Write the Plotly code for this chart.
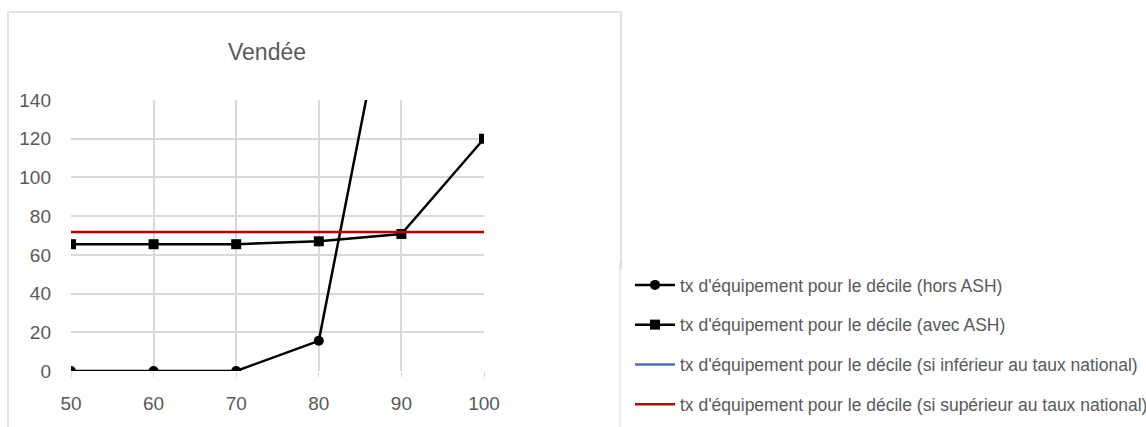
import plotly.graph_objects as go

deciles = [50, 60, 70, 80, 90, 100]
hors_ash = [0, 0, 0, 15.6, 233, 330]
avec_ash = [65.5, 65.5, 65.5, 67, 70.8, 120]
si_inferieur = [None, None, None, None, None, None]
si_superieur = [71.8, 71.8, 71.8, 71.8, 71.8, 71.8]

names = [
    "tx d'équipement pour le décile (hors ASH)",
    "tx d'équipement pour le décile (avec ASH)",
    "tx d'équipement pour le décile (si inférieur au taux national)",
    "tx d'équipement pour le décile (si supérieur au taux national)",
]

W, H = 1146, 427
L, R, T, B = 71, 484, 100, 371
FONT = "Liberation Sans, Arial, sans-serif"
GRAY = "#595959"

def px(x):
    return (x - L) / (R - L)

def py(y):
    return (B - y) / (B - T)

fig = go.Figure()
fig.add_trace(go.Scatter(x=deciles, y=hors_ash, name=names[0], mode="lines+markers",
                         line=dict(color="black", width=2.5),
                         marker=dict(symbol="circle", size=10, color="black"),
                         legendgroup="a"))
fig.add_trace(go.Scatter(x=deciles, y=avec_ash, name=names[1], mode="lines+markers",
                         line=dict(color="black", width=2.5),
                         marker=dict(symbol="square", size=10, color="black"),
                         legendgroup="b"))
fig.add_trace(go.Scatter(x=deciles, y=si_inferieur, name=names[2], mode="lines",
                         line=dict(color="#4472C4", width=2.5), legendgroup="c"))
fig.add_trace(go.Scatter(x=deciles, y=si_superieur, name=names[3], mode="lines",
                         line=dict(color="#C00000", width=2.5), legendgroup="d"))

shapes = [
    # chart frame
    dict(type="line", xref="paper", yref="paper", x0=px(9), x1=px(621), y0=py(12), y1=py(12),
         line=dict(color="#d9d9d9", width=1.5)),
    dict(type="line", xref="paper", yref="paper", x0=px(8), x1=px(8), y0=py(12), y1=py(427),
         line=dict(color="#d9d9d9", width=1.5)),
    dict(type="line", xref="paper", yref="paper", x0=px(621), x1=px(621), y0=py(12), y1=py(270),
         line=dict(color="#d9d9d9", width=1.5)),
    dict(type="line", xref="paper", yref="paper", x0=px(620), x1=px(620), y0=py(262), y1=py(427),
         line=dict(color="#d9d9d9", width=1)),
]

fig.update_layout(
    width=W, height=H,
    margin=dict(l=L, r=W - R, t=T, b=H - B, pad=0, autoexpand=False),
    paper_bgcolor="white", plot_bgcolor="white",
    font=dict(family=FONT, color=GRAY),
    title=dict(text="Vendée", x=px(267), xanchor="center", xref="paper",
               y=1 - 52 / H, yanchor="middle", font=dict(size=23, color=GRAY, family=FONT)),
    xaxis=dict(range=[50, 100], tickvals=deciles, showgrid=True, gridcolor="#d9d9d9",
               gridwidth=1.5, zeroline=False, showline=False, ticks="outside", ticklen=5,
               tickcolor="#d9d9d9", ticklabelstandoff=10,
               tickfont=dict(size=19, color=GRAY, family=FONT), fixedrange=True),
    yaxis=dict(range=[0, 140], dtick=20, showgrid=True, gridcolor="#d9d9d9", gridwidth=1.5,
               zeroline=False, showline=False, ticks="", ticklabelstandoff=19,
               tickfont=dict(size=19, color=GRAY, family=FONT)),
    showlegend=True,
    legend=dict(x=px(630), y=py(267), xanchor="left", yanchor="top",
                font=dict(size=17.5, color=GRAY, family=FONT),
                traceorder="grouped", tracegroupgap=14, bgcolor="rgba(0,0,0,0)",
                itemwidth=40),
    shapes=shapes,
)

fig.write_html("out.html")
